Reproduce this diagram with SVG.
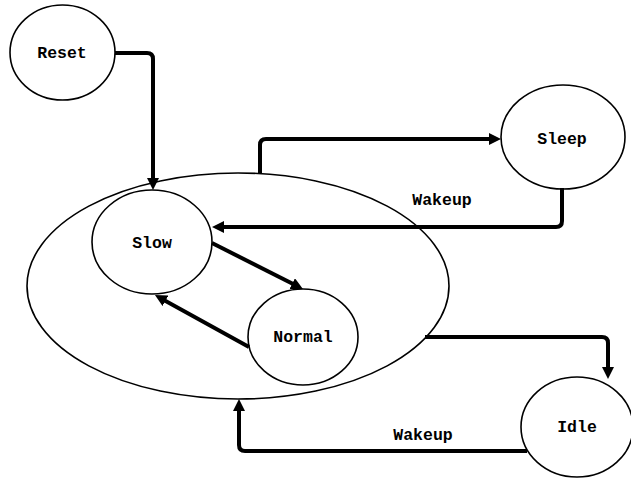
<svg xmlns="http://www.w3.org/2000/svg" width="631" height="479" viewBox="0 0 631 479">
  <style>
    .state { fill: #ffffff; stroke: #000000; stroke-width: 1.6; }
    .group { fill: none; stroke: #000000; stroke-width: 1.6; }
    .label { font-family: "Liberation Mono", "DejaVu Sans Mono", monospace; font-weight: bold; font-size: 16.5px; fill: #000000; text-anchor: middle; dominant-baseline: central; }
    .edge { fill: none; stroke: #000000; stroke-width: 4; stroke-linejoin: round; marker-end: url(#arrow); }
  </style>
  <defs>
    <marker id="arrow" markerUnits="userSpaceOnUse" markerWidth="12" markerHeight="12" refX="6" refY="6" orient="auto">
      <path d="M0,0 L12,6 L0,12 z" fill="#000000"/>
    </marker>
  </defs>

  <rect width="631" height="479" fill="#ffffff"/>

  <!-- composite "active" state -->
  <g id="active">
    <ellipse class="group" cx="238" cy="286" rx="211" ry="113"/>
  </g>

  <g id="reset">
    <ellipse class="state" cx="62.5" cy="52.5" rx="52.5" ry="47.5"/>
    <text class="label" x="62" y="53">Reset</text>
  </g>

  <g id="slow">
    <ellipse class="state" cx="152" cy="242" rx="60" ry="52"/>
    <text class="label" x="152" y="243">Slow</text>
  </g>

  <g id="normal">
    <ellipse class="state" cx="303" cy="337" rx="55" ry="48"/>
    <text class="label" x="303" y="337">Normal</text>
  </g>

  <g id="sleep">
    <ellipse class="state" cx="563" cy="137" rx="62" ry="52"/>
    <text class="label" x="562" y="139">Sleep</text>
  </g>

  <g id="idle">
    <ellipse class="state" cx="577" cy="427" rx="56" ry="50"/>
    <text class="label" x="577" y="427">Idle</text>
  </g>

  <!-- transitions -->
  <g id="connectors">
    <path class="edge" d="M115,53 H147 Q153,53 153,59 V184"/>
    <path class="edge" d="M260,173 V145 Q260,139 266,139 H495"/>
    <path class="edge" d="M562,188 V221 Q562,227 556,227 H218"/>
    <path class="edge" d="M212,243 L297.6,286.3"/>
    <path class="edge" d="M249,347 L160.2,297.9"/>
    <path class="edge" d="M425,337 H602 Q608,337 608,343 V373"/>
    <path class="edge" d="M527,451 H245 Q239,451 239,445 V405"/>
    <text class="label" x="442" y="200">Wakeup</text>
    <text class="label" x="423" y="435">Wakeup</text>
  </g>
</svg>
